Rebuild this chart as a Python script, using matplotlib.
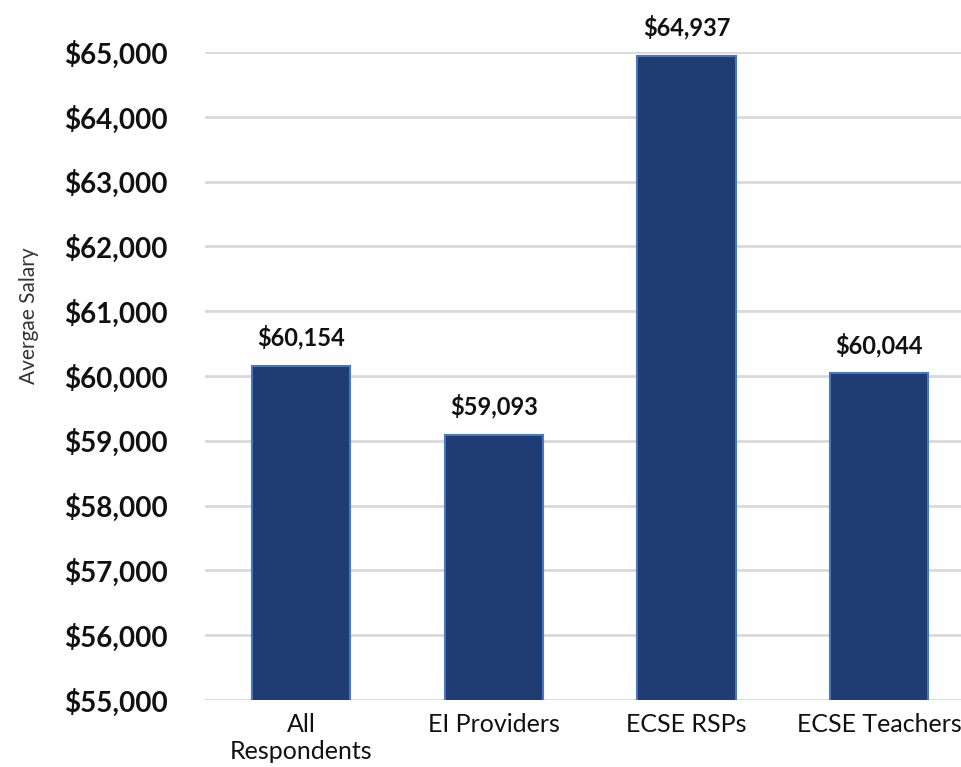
import numpy as np
import matplotlib.pyplot as plt
from matplotlib.ticker import FuncFormatter

categories = ['All\nRespondents', 'EI Providers', 'ECSE RSPs', 'ECSE Teachers']
salaries = [60154, 59093, 64937, 60044]
yticks = np.arange(55000, 65001, 1000)

plt.rcParams['font.family'] = ['Lato', 'DejaVu Sans']

fig = plt.figure(figsize=(9.62, 7.67), dpi=100)
ax = fig.add_axes([0.2131, 0.0874, 0.7869, 0.8448])

x = np.arange(len(categories))
ax.bar(x, salaries, width=0.51, color='#1F3C73', edgecolor='#4A76C4', linewidth=1.5, zorder=3)

for xi, v in zip(x, salaries):
    ax.text(xi, v + 250, f'${v:,}', ha='center', va='bottom', fontsize=17, fontweight='bold', color='#111111')

ax.set_ylim(55000, 65000)
ax.set_xlim(-0.5, 3.43)
ax.set_yticks(yticks)
ax.yaxis.set_major_formatter(FuncFormatter(lambda v, p: f'${v:,.0f}'))
ax.set_xticks(x)
ax.set_xticklabels(categories, fontsize=18, color='#111111', linespacing=1.2)
for lbl in ax.get_yticklabels():
    lbl.set_fontsize(20)
    lbl.set_fontweight('bold')
    lbl.set_color('#111111')

ax.grid(axis='y', color='#D9D9D9', linewidth=2, zorder=0)
ax.set_axisbelow(True)
for s in ax.spines.values():
    s.set_visible(False)
ax.tick_params(axis='both', length=0)
ax.tick_params(axis='y', pad=27)
ax.tick_params(axis='x', pad=9.5)

ax.set_ylabel('Avergae Salary', fontsize=15, color='#333333')
ax.yaxis.set_label_coords(-166 / 757, (700 - 316) / 648)

plt.savefig('out.png', dpi=100)
